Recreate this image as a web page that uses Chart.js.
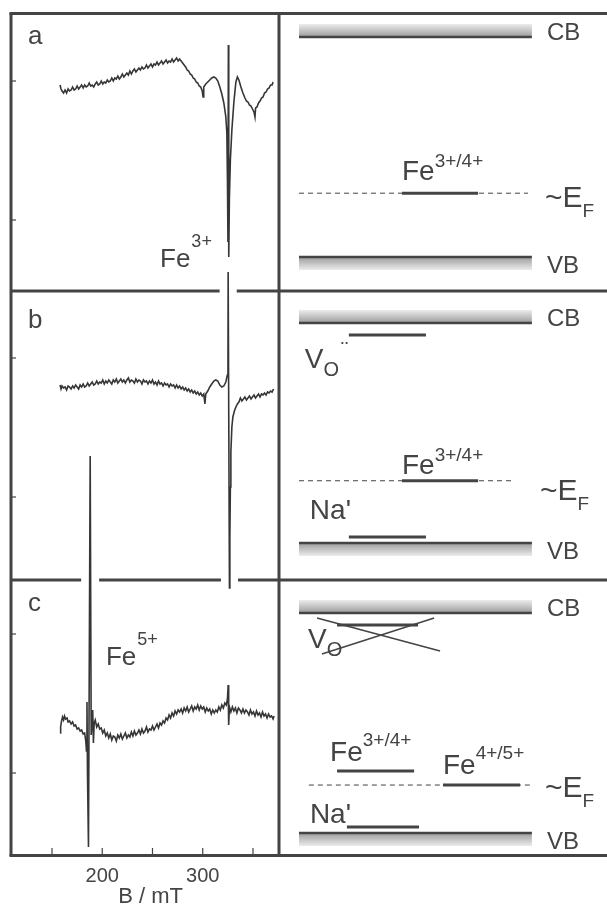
<!DOCTYPE html>
<html>
<head>
<meta charset="utf-8">
<script src="https://cdn.jsdelivr.net/npm/chart.js@4.4.1/dist/chart.umd.min.js"></script>
<style>
html, body { margin: 0; padding: 0; background: #fff; }
#wrap { position: relative; width: 607px; height: 908px; }
#wrap canvas { position: absolute; left: 0; top: 0; }
</style>
</head>
<body>
<div id="wrap">
  <canvas id="epr" width="607" height="908"></canvas>
  <canvas id="bands" width="607" height="908"></canvas>
</div>
<script>
// ---- EPR spectra: [B (mT), signal (a.u.)], each relative to its own zero line ----
var spectrumA = [[158,135],[159,131],[160,129],[161.5,127],[163,130],[164.5,127],[166,131],[167.5,129],[169,130],[170.5,133],[172,130],[173.5,131],[175,134],[176.5,131],[178,133],[179.5,135],[181,132],[182.5,135],[184,133],[185.5,134],[187,137],[188.5,134],[190,135],[191.5,133],[193,136],[194.5,138],[196,135],[197.5,136],[199,139],[200.5,136],[202,138],[203.5,137],[205,140],[206.5,138],[208,139],[209.5,142],[211,139],[212.5,142],[214,141],[215.5,144],[217,141],[218.5,143],[220,146],[221.5,143],[223,145],[224.5,147],[226,145],[227.5,149],[229,146],[230.5,149],[232,151],[233.5,148],[235,150],[236.5,152],[238,150],[239.5,153],[241,151],[242.5,152],[244,155],[245.5,152],[247,154],[248.5,156],[250,153],[251.5,156],[253,155],[254.5,158],[256,155],[257.5,157],[259,159],[260.5,156],[262,158],[263.5,160],[265,157],[266.5,159],[268,158],[269.5,161],[271,158],[272.5,160],[274,162],[275.5,159],[277,161],[278.5,159],[280,157],[281.5,155],[283,153],[284.5,150],[286,149],[287.5,146],[289,145],[290.5,142],[292,141],[293.5,138],[295,137],[296.5,134],[298,133],[299.5,129],[300.3,123],[301,133],[303,136],[305,138],[307,140],[309,142],[311,143],[313,142],[315,139],[317,133],[319,126],[321,117],[323,103],[324,87],[324.6,40],[325.1,-22],[325.5,175],[325.9,-37],[326.5,20],[327.5,60],[329,90],[331,118],[333,138],[334.5,143],[336,140],[338,133],[340,127],[342,122],[343.5,119],[345,118],[346.5,115],[348,114],[349.5,111],[351,108],[352,103],[352.6,112],[354,113],[355.5,117],[357,119],[358.5,122],[360,123],[361.5,127],[363,128],[364.5,131],[366,132],[367.5,135],[369,135],[370,138]];

var spectrumB = [[158,112],[159,108],[160,111],[161.5,109],[163,110],[164.5,107],[166,111],[167.5,110],[169,108],[170.5,111],[172,109],[173.5,112],[175,110],[176.5,108],[178,112],[179.5,110],[181,113],[182.5,110],[184,111],[185.5,114],[187,111],[188.5,113],[190,115],[191.5,112],[193,113],[194.5,116],[196,113],[197.5,115],[199,114],[200.5,117],[202,113],[203.5,116],[205,114],[206.5,117],[208,115],[209.5,113],[211,117],[212.5,115],[214,118],[215.5,114],[217,116],[218.5,118],[220,115],[221.5,117],[223,114],[224.5,117],[226,119],[227.5,115],[229,117],[230.5,116],[232,114],[233.5,118],[235,115],[236.5,117],[238,116],[239.5,113],[241,117],[242.5,115],[244,116],[245.5,113],[247,116],[248.5,114],[250,117],[251.5,113],[253,115],[254.5,112],[256,116],[257.5,113],[259,114],[260.5,111],[262,114],[263.5,112],[265,113],[266.5,110],[268,113],[269.5,111],[271,112],[272.5,109],[274,112],[275.5,109],[277,111],[278.5,108],[280,110],[281.5,107],[283,109],[284.5,106],[286,108],[287.5,105],[289,107],[290.5,104],[292,106],[293.5,103],[295,105],[296.5,102],[298,104],[299.5,101],[301,103],[302.2,93],[303,103],[305,106],[307,110],[309,113],[311,116],[313,117],[315,116],[317,112],[319,110],[321,111],[323,115],[324.5,122],[325.1,128],[325.3,225],[326.6,-91],[327,-40],[327.5,10],[328,45],[329,70],[330,80],[331.5,86],[333,90],[334.5,93],[336,95],[337.5,99],[339,96],[340.5,98],[342,100],[343.5,97],[345,99],[346.5,101],[348,98],[349.5,100],[351,102],[352.5,99],[354,101],[355.5,103],[357,100],[358.5,103],[360,102],[361.5,104],[363,102],[364.5,105],[366,104],[367.5,106],[369,105],[370.5,108]];

var spectrumC = [[158,40],[158.6,46],[159.5,52],[160.5,56],[161.5,53],[162.5,57],[163.5,54],[165,55],[166,51],[167.5,52],[169,49],[170.5,51],[172,47],[173.5,48],[175,44],[176.5,45],[178,42],[179.5,43],[181,39],[182.5,40],[183.6,32],[184.3,22],[184.8,71],[185.3,1],[186.3,-74],[188,317],[189,38],[190.5,63],[191.2,30],[192,50],[193,53],[194.5,46],[196,49],[197.5,44],[199,45],[200.5,40],[202,43],[203.5,37],[205,40],[206.5,35],[208,39],[209.5,33],[211,37],[212.5,36],[214,32],[215.5,38],[217,35],[218.5,39],[220,34],[221.5,37],[223,40],[224.5,35],[226,38],[227.5,36],[229,41],[230.5,37],[232,42],[233.5,38],[235,40],[236.5,43],[238,39],[239.5,44],[241,40],[242.5,42],[244,46],[245.5,41],[247,44],[248.5,43],[250,47],[251.5,43],[253,46],[254.5,49],[256,45],[257.5,50],[259,48],[260.5,52],[262,50],[263.5,55],[265,53],[266.5,58],[268,55],[269.5,60],[271,57],[272.5,62],[274,59],[275.5,63],[277,61],[278.5,64],[280,60],[281.5,65],[283,62],[284.5,66],[286,61],[287.5,64],[289,67],[290.5,62],[292,66],[293.5,64],[295,68],[296.5,63],[298,67],[299.5,64],[301,66],[302.5,61],[304,65],[305.5,62],[307,64],[308.5,59],[310,63],[311.5,60],[313,63],[314.5,61],[316,66],[317.5,63],[319,68],[320.5,65],[322,70],[323.5,68],[324.6,74],[325.3,88],[325.8,48],[326.6,66],[328,61],[329.5,66],[331,62],[332.5,65],[334,60],[335.5,65],[337,63],[338.5,60],[340,64],[341.5,60],[343,63],[344.5,61],[346,58],[347.5,63],[349,59],[350.5,61],[352,57],[353.5,62],[355,58],[356.5,60],[358,56],[359.5,61],[361,57],[362.5,59],[364,55],[365.5,59],[367,56],[368.5,57],[370,54],[371,57]];

var panelNames = ['a', 'b', 'c'];
var fieldTicks = [150, 200, 250, 300, 350];
var fieldLabels = [200, 300];
var spectrumNote = [['Fe', '3+'], null, ['Fe', '5+']];

// ---- band diagrams: energies as fraction of the gap above the VB edge ----
var fermiLevel = [0.29, 0.283, 0.218];
var fermiSpan = [[6.1, 75.9], [6.1, 71.6], [9.1, 77.1]];
var bandSpan = [6.1, 77.1];
var levelPanel  = [0, 1, 1, 1, 2, 2, 2, 2];
var levelEnergy = [0.29, 0.283, 0.945, 0.027, 0.282, 0.218, 0.945, 0.027];
var levelFrom   = [37.5, 37.5, 21.3, 21.3, 17.7, 50.0, 17.7, 20.7];
var levelTo     = [60.7, 60.7, 44.8, 44.8, 41.2, 73.5, 42.4, 42.7];
var levelName   = ['Fe', 'Fe', 'V', 'Na\'', 'Fe', 'Fe', 'V', 'Na\''];
var levelSup    = ['3+/4+', '3+/4+', '\u00a8', '', '3+/4+', '4+/5+', '', ''];
var levelSub    = ['', '', 'O', '', '', '', 'O', ''];
// V_O level of panel c is struck out
var struckPanel = 2;
var struckLines = [[[11.6, 0.977], [49.1, 0.827]], [[13.1, 0.814], [47.3, 0.977]]];

// ---- layout / style ----
var FONT = '"Liberation Sans", Arial, Helvetica, sans-serif';
var ink = '#444444';
var traceInk = '#363636';
var fieldMin = 109.2, fieldMax = 374.9;
var yTop = 843;                    // shared vertical scale, a.u.
var traceOffset = [636, 359, 83];  // zero line of each trace
var tickStep = 139;
var dividerAt = [565, 276];
var vbEdge = [599, 313, 23];       // VB edge of each band diagram
var gapSize = 220;
var letterAt = [[126, 812], [126, 528], [126, 245]];
var noteAt = [[257.5, 589], null, [203.7, 191]];
var levelShift = [
  [[0, -13], [0, -26]],
  [[0, -7], [0, -20]],
  [[-44, 33], [0, 41], [2, 22]],
  [[-39, -18]],
  [[-7, -10], [0, -25]],
  [[0, -11], [0, -26]],
  [[-29, 23], [0, 31]],
  [[-37, -4]]
];
var fermiTextShift = [[0, 14], [-5, 19], [0, 12]];

function energy(p, f) { return vbEdge[p] + f * gapSize; }

function drawRuns(ctx, x, y, runs) {
  runs.forEach(function(r) {
    ctx.font = r[1] + 'px ' + FONT;
    var px = x + r[2];
    ctx.fillText(r[0], px, y + r[3]);
    x = px + ctx.measureText(r[0]).width;
  });
}

function hline(ctx, x0, x1, y) {
  ctx.beginPath(); ctx.moveTo(x0, y); ctx.lineTo(x1, y); ctx.stroke();
}

var eprFrame = {
  id: 'eprFrame',
  beforeDatasetsDraw: function(chart) {
    var ctx = chart.ctx, a = chart.chartArea, xs = chart.scales.x, ys = chart.scales.y;
    var W = chart.width;
    ctx.save();
    ctx.strokeStyle = ink;
    ctx.lineWidth = 3;
    // outer frame and column divider
    hline(ctx, a.left - 1.5, W, a.top + 0.5);
    hline(ctx, a.left - 1.5, W, a.bottom - 0.5);
    ctx.beginPath(); ctx.moveTo(a.left, a.top); ctx.lineTo(a.left, a.bottom); ctx.stroke();
    ctx.beginPath(); ctx.moveTo(a.right + 1, a.top); ctx.lineTo(a.right + 1, a.bottom); ctx.stroke();
    // panel dividers, broken where a trace runs through them
    dividerAt.forEach(function(v) {
      var py = ys.getPixelForValue(v);
      var gaps = [];
      chart.data.datasets.forEach(function(ds, i) {
        var pts = chart.getDatasetMeta(i).data;
        for (var k = 1; k < pts.length; k++) {
          var p = pts[k - 1], q = pts[k];
          if ((p.y - py) * (q.y - py) < 0) {
            var cx = p.x + (q.x - p.x) * (py - p.y) / (q.y - p.y);
            gaps.push([cx - 8.5, cx + 8.5]);
          }
        }
      });
      gaps.sort(function(g, h) { return g[0] - h[0]; });
      var x = a.left;
      gaps.forEach(function(g) {
        if (g[0] > x) hline(ctx, x, g[0], py);
        x = Math.max(x, g[1]);
      });
      hline(ctx, x, W, py);
    });
    // inward tick marks
    ctx.lineWidth = 1.2;
    traceOffset.forEach(function(o) {
      [o, o + tickStep].forEach(function(v) {
        var py = ys.getPixelForValue(v);
        hline(ctx, a.left, a.left + 5, py);
      });
    });
    fieldTicks.forEach(function(b) {
      var px = xs.getPixelForValue(b);
      ctx.beginPath(); ctx.moveTo(px, a.bottom - 1); ctx.lineTo(px, a.bottom - 8); ctx.stroke();
    });
    ctx.restore();
  },
  afterDatasetsDraw: function(chart) {
    var ctx = chart.ctx, xs = chart.scales.x, ys = chart.scales.y;
    ctx.save();
    ctx.fillStyle = ink;
    ctx.textBaseline = 'alphabetic';
    panelNames.forEach(function(n, i) {
      drawRuns(ctx, xs.getPixelForValue(letterAt[i][0]), ys.getPixelForValue(letterAt[i][1]), [[n, 26, 0, 0]]);
      if (spectrumNote[i]) {
        drawRuns(ctx, xs.getPixelForValue(noteAt[i][0]), ys.getPixelForValue(noteAt[i][1]),
          [[spectrumNote[i][0], 26, 0, 0], [spectrumNote[i][1], 18, 1, -20]]);
      }
    });
    ctx.restore();
  }
};

new Chart(document.getElementById('epr'), {
  type: 'line',
  data: {
    datasets: [spectrumA, spectrumB, spectrumC].map(function(s, i) {
      return {
        label: panelNames[i],
        data: s.map(function(p) { return { x: p[0], y: p[1] + traceOffset[i] }; }),
        borderColor: traceInk,
        borderWidth: 1.6,
        pointRadius: 0,
        tension: 0,
        fill: false,
        clip: false
      };
    })
  },
  options: {
    responsive: false,
    animation: false,
    events: [],
    layout: { padding: { left: 11, right: 329, top: 13, bottom: 0 } },
    plugins: { legend: { display: false }, tooltip: { enabled: false } },
    scales: {
      x: {
        type: 'linear',
        min: fieldMin,
        max: fieldMax,
        afterBuildTicks: function(s) { s.ticks = fieldTicks.map(function(v) { return { value: v }; }); },
        afterFit: function(s) { s.height = 52; },
        grid: { display: false, drawTicks: false },
        border: { display: false },
        ticks: {
          padding: 8,
          color: ink,
          autoSkip: false,
          maxRotation: 0,
          font: { family: FONT, size: 20 },
          callback: function(v) { return fieldLabels.indexOf(v) >= 0 ? String(v) : ''; }
        },
        title: {
          display: true,
          text: '  B / mT',
          color: ink,
          font: { family: FONT, size: 22, lineHeight: 1 },
          padding: { top: 0, bottom: 0 }
        }
      },
      y: { display: false, min: 0, max: yTop }
    }
  },
  plugins: [eprFrame]
});

// ---- band diagrams ----
var diagramSets = [];
panelNames.forEach(function(n, p) {
  diagramSets.push({
    data: [{ x: fermiSpan[p][0], y: energy(p, fermiLevel[p]) }, { x: fermiSpan[p][1], y: energy(p, fermiLevel[p]) }],
    borderWidth: 1, borderDash: [5, 4]
  });
  [0, 1].forEach(function(f) {
    diagramSets.push({
      data: [{ x: bandSpan[0], y: energy(p, f) }, { x: bandSpan[1], y: energy(p, f) }],
      borderWidth: 2.5
    });
  });
});
levelPanel.forEach(function(p, i) {
  diagramSets.push({
    data: [{ x: levelFrom[i], y: energy(p, levelEnergy[i]) }, { x: levelTo[i], y: energy(p, levelEnergy[i]) }],
    borderWidth: 3
  });
});
struckLines.forEach(function(l) {
  diagramSets.push({
    data: l.map(function(q) { return { x: q[0], y: energy(struckPanel, q[1]) }; }),
    borderWidth: 1.5
  });
});
diagramSets.forEach(function(d) {
  d.borderColor = ink; d.pointRadius = 0; d.fill = false; d.clip = false; d.borderCapStyle = 'butt';
});

var bandPlugin = {
  id: 'bandPlugin',
  beforeDatasetsDraw: function(chart) {
    var ctx = chart.ctx, xs = chart.scales.x, ys = chart.scales.y;
    var x0 = xs.getPixelForValue(bandSpan[0]), x1 = xs.getPixelForValue(bandSpan[1]);
    ctx.save();
    panelNames.forEach(function(n, p) {
      var cb = ys.getPixelForValue(energy(p, 1));
      var g = ctx.createLinearGradient(0, cb - 13, 0, cb);
      g.addColorStop(0, '#ececec'); g.addColorStop(1, '#9c9c9c');
      ctx.fillStyle = g; ctx.fillRect(x0, cb - 13, x1 - x0, 13);
      var vb = ys.getPixelForValue(energy(p, 0));
      g = ctx.createLinearGradient(0, vb, 0, vb + 13);
      g.addColorStop(0, '#9c9c9c'); g.addColorStop(1, '#ececec');
      ctx.fillStyle = g; ctx.fillRect(x0, vb, x1 - x0, 13);
    });
    ctx.restore();
  },
  afterDatasetsDraw: function(chart) {
    var ctx = chart.ctx, xs = chart.scales.x, ys = chart.scales.y;
    var lx = xs.getPixelForValue(81.7);
    ctx.save();
    ctx.fillStyle = ink;
    ctx.textBaseline = 'alphabetic';
    panelNames.forEach(function(n, p) {
      drawRuns(ctx, lx, ys.getPixelForValue(energy(p, 1)), [['CB', 24, 0, 3]]);
      drawRuns(ctx, lx, ys.getPixelForValue(energy(p, 0)), [['VB', 24, 0, 16]]);
      var s = fermiTextShift[p];
      drawRuns(ctx, lx - 2, ys.getPixelForValue(energy(p, fermiLevel[p])),
        [['~E', 30, s[0], s[1]], ['F', 19, 0, s[1] + 10]]);
    });
    levelPanel.forEach(function(p, i) {
      var ax = xs.getPixelForValue(levelFrom[i]), ay = ys.getPixelForValue(energy(p, levelEnergy[i]));
      var sh = levelShift[i];
      var runs = [[levelName[i], 28, sh[0][0], sh[0][1]]];
      var extra = [levelSub[i] ? [levelSub[i], 20] : null, levelSup[i] ? [levelSup[i], levelSup[i] === '\u00a8' ? 22 : 19] : null]
        .filter(function(e) { return e; });
      extra.forEach(function(e, k) { runs.push([e[0], e[1], sh[k + 1][0], sh[k + 1][1]]); });
      drawRuns(ctx, ax, ay, runs);
    });
    ctx.restore();
  }
};

new Chart(document.getElementById('bands'), {
  type: 'line',
  data: { datasets: diagramSets },
  options: {
    responsive: false,
    animation: false,
    events: [],
    layout: { padding: { left: 279, right: 0, top: 13, bottom: 52 } },
    plugins: { legend: { display: false }, tooltip: { enabled: false } },
    scales: {
      x: { type: 'linear', display: false, min: 0, max: 100 },
      y: { display: false, min: 0, max: yTop }
    }
  },
  plugins: [bandPlugin]
});
</script>
</body>
</html>
